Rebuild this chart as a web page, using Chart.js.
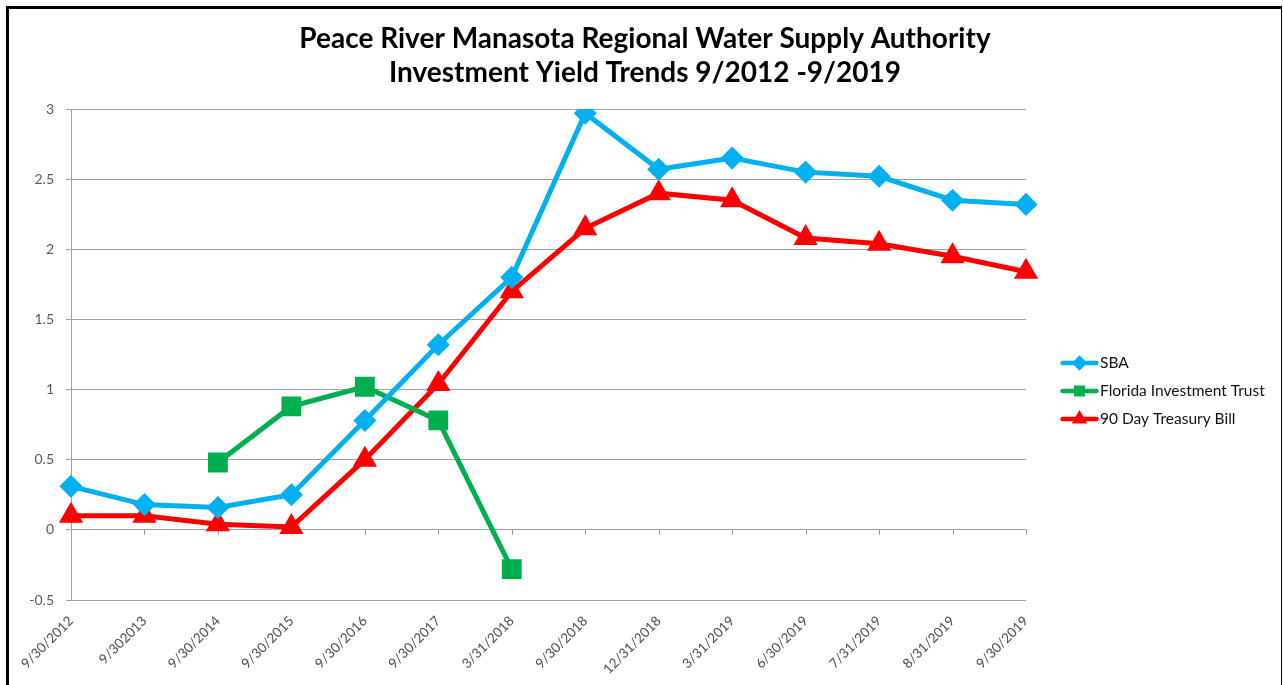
<!DOCTYPE html>
<html><head><meta charset="utf-8">
<script src="https://cdn.jsdelivr.net/npm/chart.js@4"></script>
<style>
html,body{margin:0;padding:0;background:#fff;overflow:hidden;}
#frame{position:absolute;left:6px;top:6px;width:1272px;height:690px;border-left:3px solid #000;border-top:3px solid #000;border-right:1px solid #000;}
#wrap{position:absolute;left:0;top:0;width:1272px;height:676px;}
</style></head><body>
<div id="frame"><div id="wrap"><canvas id="c"></canvas></div></div>
<script>
const titleLines = ['Peace River Manasota Regional Water Supply Authority', 'Investment Yield Trends 9/2012 -9/2019'];
const categories = ['9/30/2012','9/302013','9/30/2014','9/30/2015','9/30/2016','9/30/2017','3/31/2018','9/30/2018','12/31/2018','3/31/2019','6/30/2019','7/31/2019','8/31/2019','9/30/2019'];
const sbaValues = [0.31,0.18,0.16,0.25,0.78,1.32,1.80,2.97,2.57,2.65,2.55,2.52,2.35,2.32];
const fitValues = [null,null,0.48,0.88,1.02,0.78,-0.28,null,null,null,null,null,null,null];
const tbillValues = [0.10,0.10,0.04,0.02,0.50,1.04,1.70,2.15,2.40,2.35,2.08,2.04,1.95,1.84];
const seriesNames = ['SBA','Florida Investment Trust','90 Day Treasury Bill'];
const yMin = -0.5, yMax = 3, yStep = 0.5;

const titlePlugin = {
  id: 'customTitle',
  afterDraw(chart) {
    const ctx = chart.ctx;
    ctx.save();
    ctx.font = 'bold 28px Lato';
    ctx.fillStyle = '#000';
    ctx.textAlign = 'center';
    ctx.textBaseline = 'middle';
    ctx.fillText(titleLines[0], chart.width / 2, 30);
    ctx.fillText(titleLines[1], chart.width / 2, 64);
    ctx.restore();
  }
};

const legendPlugin = {
  id: 'customLegend',
  afterDraw(chart) {
    const ctx = chart.ctx;
    ctx.save();
    chart.data.datasets.forEach((ds, i) => {
      const y = 354 + i * 28;
      const x0 = 1053.5, x1 = 1087.5;
      ctx.strokeStyle = ds.borderColor;
      ctx.lineWidth = 4.5;
      ctx.lineCap = 'round';
      ctx.beginPath(); ctx.moveTo(x0, y); ctx.lineTo(x1, y); ctx.stroke();
      ctx.fillStyle = ds.borderColor;
      ctx.strokeStyle = ds.borderColor;
      Chart.helpers.drawPoint(ctx, {pointStyle: ds.pointStyle, radius: 4.5, rotation: 0, borderWidth: 1}, (x0 + x1) / 2, y);
      ctx.fillStyle = '#111';
      ctx.font = '15.5px Lato';
      ctx.textAlign = 'left';
      ctx.textBaseline = 'middle';
      ctx.fillText(ds.label, 1091, y);
    });
    ctx.restore();
  }
};

const zeroTicksPlugin = {
  id: 'zeroTicks',
  beforeDatasetsDraw(chart) {
    const xs = chart.scales.x, ys = chart.scales.y;
    const y0 = ys.getPixelForValue(0);
    const ctx = chart.ctx;
    ctx.save();
    ctx.strokeStyle = '#9a9a9a';
    ctx.lineWidth = 1;
    categories.forEach((c, i) => {
      const x = Math.round(xs.getPixelForValue(i)) + 0.5;
      ctx.beginPath(); ctx.moveTo(x, y0); ctx.lineTo(x, y0 + 5); ctx.stroke();
    });
    ctx.restore();
  }
};

new Chart(document.getElementById('c'), {
  type: 'line',
  data: {
    labels: categories,
    datasets: [
      {label: seriesNames[0], data: sbaValues, borderColor: '#00B0F0', backgroundColor: '#00B0F0', borderWidth: 5, pointStyle: 'rectRot', pointRadius: 8, pointHoverRadius: 8, tension: 0},
      {label: seriesNames[1], data: fitValues, borderColor: '#00B050', backgroundColor: '#00B050', borderWidth: 5, pointStyle: 'rect', pointRadius: 10.5, pointHoverRadius: 10.5, spanGaps: false, tension: 0},
      {label: seriesNames[2], data: tbillValues, borderColor: '#FF0000', backgroundColor: '#FF0000', borderWidth: 5, pointStyle: 'triangle', pointRadius: 9, pointHoverRadius: 9, tension: 0}
    ]
  },
  options: {
    responsive: true,
    maintainAspectRatio: false,
    animation: false,
    layout: {padding: {top: 100, right: 255, left: 0, bottom: 0}},
    plugins: {legend: {display: false}, title: {display: false}, tooltip: {enabled: false}},
    scales: {
      x: {
        offset: false,
        grid: {display: false},
        border: {display: false},
        ticks: {color: '#4d4d4d', font: {family: 'Lato', size: 13.5}, maxRotation: 45, minRotation: 45, padding: 5, autoSkip: false},
        afterFit(s) { s.height = 85; }
      },
      y: {
        min: yMin, max: yMax,
        grid: {color: '#a0a0a0', lineWidth: 1, tickLength: 5, drawTicks: true},
        border: {display: true, color: '#a0a0a0', width: 1},
        ticks: {stepSize: yStep, color: '#595959', font: {family: 'Lato', size: 14}, padding: 12,
          callback: (v) => String(Math.round(v * 10) / 10)},
        afterFit(s) { s.width = 62; }
      }
    }
  },
  plugins: [titlePlugin, legendPlugin, zeroTicksPlugin]
});
</script>
</body></html>
